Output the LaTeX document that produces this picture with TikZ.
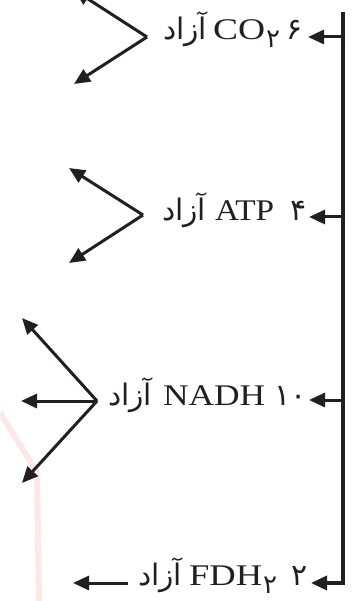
\documentclass[tikz,border=0pt]{standalone}
\usepackage{fontspec}
\usepackage{graphicx}
\setmainfont{Liberation Serif}
\newfontfamily\arabicfont[Script=Arabic]{DejaVu Sans}
\TeXXeTstate=1
\usetikzlibrary{arrows.meta}
\definecolor{ink}{RGB}{35,31,32}
\definecolor{ghost}{RGB}{253,232,232}
\newcommand\freeword{\resizebox{44pt}{!}{\arabicfont\fontsize{20}{24}\selectfont\beginR آزاد\endR}}
\newcommand\chem[2]{\scalebox{#1}[1]{\fontsize{30}{34}\selectfont #2}}
\newcommand\subdig[1]{\hspace{1pt}\raisebox{-8pt}{\arabicfont\fontsize{26}{30}\selectfont #1}}
\newcommand\numtxt[2]{{\arabicfont\fontsize{#1}{34}\selectfont #2}}
\tikzset{
  lbl/.style={inner sep=0pt, outer sep=0pt, text=ink},
  arr/.style={line width=3pt, draw=ink, -{Triangle[length=16pt,width=14pt]}},
  trunk/.style={line width=3.5pt, draw=ink, line join=miter, -{Triangle[length=16pt,width=14pt]}},
  ghostline/.style={line width=6pt, draw=ghost}
}
\begin{document}
\begin{tikzpicture}[x=1pt,y=-1pt]
\useasboundingbox (0,0) rectangle (351,601);
% faint background mark
\coordinate (g1) at (0,413);
\coordinate (g2) at (37,472);
\coordinate (g3) at (39,601);
\draw[ghostline] (g1) -- (g2) -- (g3);
% trunk
\coordinate (top) at (343,12);
\coordinate (corner) at (343,583);
\coordinate (b1) at (343,37);
\coordinate (b2) at (343,217);
\coordinate (b3) at (343,400);
\coordinate (t1) at (308,37);
\coordinate (t2) at (309,217);
\coordinate (t3) at (309,400);
\coordinate (t4) at (311,583);
\draw[trunk] (top) -- (corner) -- (t4);
\draw[arr] (b1) -- (t1);
\draw[arr] (b2) -- (t2);
\draw[arr] (b3) -- (t3);
% row 1
\node[lbl, anchor=base west] (w1) at (163,40) {\freeword};
\node[lbl, anchor=base west] (c1) at (213,40) {\chem{1.25}{CO}\subdig{۲}};
\node[lbl, anchor=base east] (n1) at (303,40) {\numtxt{30}{۶}};
\coordinate (v1) at (147,37);
\coordinate (u1) at (74,-10);
\coordinate (l1) at (74,84);
\draw[arr] (v1) -- (u1);
\draw[arr] (v1) -- (l1);
% row 2
\node[lbl, anchor=base west] (w2) at (162,221) {\freeword};
\node[lbl, anchor=base west] (c2) at (215,221) {\chem{1.11}{ATP}};
\node[lbl, anchor=base east] (n2) at (307,221) {\numtxt{30}{۴}};
\coordinate (v2) at (143,215);
\coordinate (u2) at (69,168);
\coordinate (l2) at (69,263);
\draw[arr] (v2) -- (u2);
\draw[arr] (v2) -- (l2);
% row 3
\node[lbl, anchor=base west] (w3) at (108,405) {\freeword};
\node[lbl, anchor=base west] (c3) at (163,405) {\chem{1.18}{NADH}};
\node[lbl, anchor=base east] (n3) at (307,405) {\numtxt{30}{۱۰}};
\coordinate (v3) at (97,401);
\coordinate (u3) at (22,318);
\coordinate (m3) at (21,401);
\coordinate (l3) at (22,483);
\draw[arr] (v3) -- (u3);
\draw[arr] (v3) -- (m3);
\draw[arr] (v3) -- (l3);
% row 4
\node[lbl, anchor=base west] (w4) at (138,585) {\freeword};
\node[lbl, anchor=base west] (c4) at (189,585) {\chem{1.22}{FDH}\subdig{۲}};
\node[lbl, anchor=base east] (n4) at (308,585) {\numtxt{30}{۲}};
\coordinate (s4) at (128,583);
\coordinate (e4) at (73,583);
\draw[arr] (s4) -- (e4);
\end{tikzpicture}
\end{document}
